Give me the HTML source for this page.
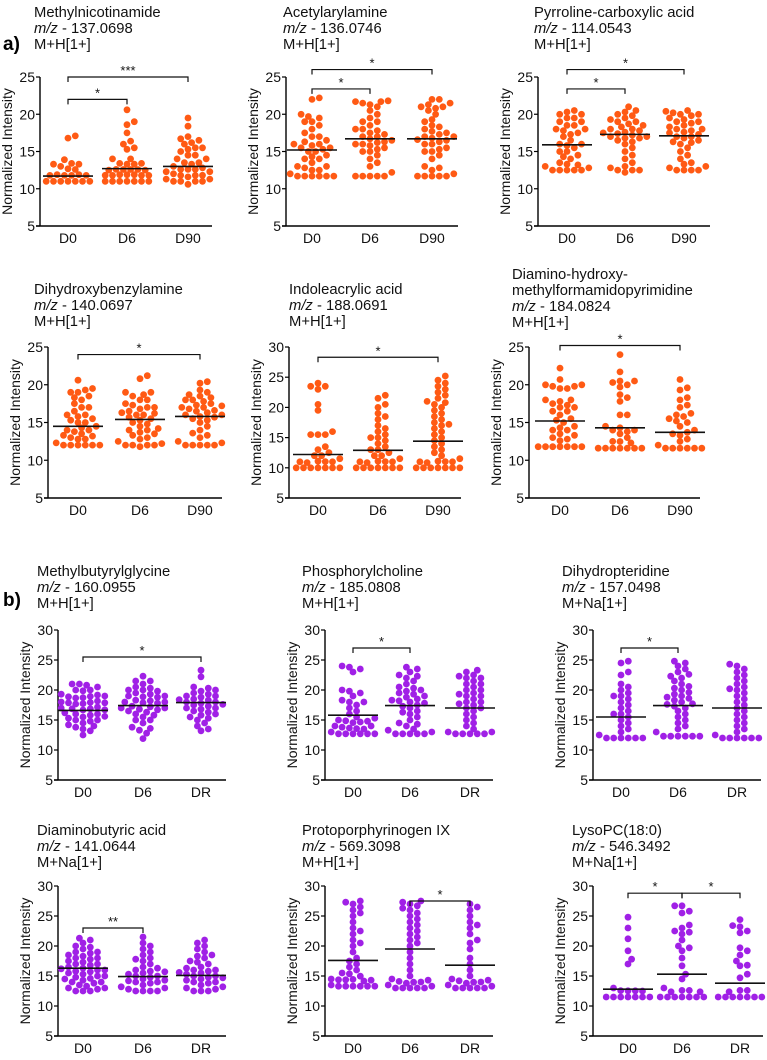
<!DOCTYPE html>
<html><head><meta charset="utf-8"><style>
body{margin:0;background:#fff;}
svg{display:block;font-family:"Liberation Sans",Arial,sans-serif;}
</style></head><body>
<svg id="fig" width="767" height="1060" viewBox="0 0 767 1060" xmlns="http://www.w3.org/2000/svg">
<text x="3" y="50" font-size="19" font-weight="bold">a)</text>
<text x="3" y="606" font-size="19" font-weight="bold">b)</text>
</svg>
<script>
// ---------- data ----------
const catsA = ["D0","D6","D90"];
const catsB = ["D0","D6","DR"];
const ticks25 = [5,10,15,20,25];
const ticks30 = [5,10,15,20,25,30];

const p1D0=[11,11,11,11,11,11,11,11.2,11.2,11.3,11.3,11.5,11.5,11.5,12.0,13.3,13.3,13.4,13.9,16.8,17.1,13.0];
const p1D6=[11,11,11,11,11,11,11,11,11.3,11.3,11.5,11.5,11.5,12,12,12,12.5,12.5,13,13,13.4,13.4,14,14,15.3,15.5,16,16.4,17.5,18.6,19,20.6,11.8,12.3];
const p1D90=[10.6,11,11,11,11,11.3,11.3,11.3,11.5,11.5,12,12,12,12.3,12.3,12.6,13,13,13.5,13.5,14,14,14.5,14.5,15,15.3,15.5,15.5,16,16.2,16.5,16.7,17,18.4,19.5,11.8,12.8];
const p1Means=[11.7,12.7,13.0];

const p2D0=[11.7,11.7,11.7,11.7,11.7,11.7,12,12.2,12.5,13,13,13.5,14,14,14.3,14.5,15,15,15.3,15.5,15.5,16,16,16.3,16.5,17,17,17.5,18,18.5,19,19,19.5,19.7,20,22,22.2,12.8,15.8];
const p2D6=[11.7,11.7,11.7,11.7,11.7,12.2,13,13.5,14,14.5,15,15,15.3,15.5,15.8,16,16,16.3,16.5,16.7,17,17,17.3,17.5,18,18,18.5,19,19,19.5,20,20.5,21,21.3,21.5,21.7,21.7,21.8,16.2,17.8];
const p2D90=[11.7,11.7,11.7,11.7,11.7,12,12.5,12.8,13,14,14.5,15,15,15.3,15.5,16,16,16.3,16.5,16.8,17,17,17.3,17.5,18,18.3,18.5,19,19.3,20,20.5,20.8,21,21,21.3,21.5,22,22,16.6,17.7];
const p2Means=[15.2,16.7,16.7];

const p3D0=[12.5,12.5,12.5,12.5,12.5,12.8,13,13,13.5,14,14.5,15,15,15.5,15.8,16,16,16.5,17,17.3,17.5,18,18,18.5,18.5,19,19,19.5,19.5,20,20,20.3,20.5,13.2,14.3,17.8];
const p3D6=[12.2,12.5,12.5,12.5,12.8,13,13.5,14,14.5,15,15.5,16,16.3,16.5,16.8,17,17,17.2,17.4,17.6,17.8,18,18,18.3,18.5,18.7,19,19,19.3,19.5,19.8,20,20.3,20.5,21,17.5,16.8];
const p3D90=[12.5,12.5,12.5,12.5,12.8,13,13.3,13.5,14,14.5,15,15.5,16,16.3,16.5,16.8,17,17,17.3,17.5,17.8,18,18,18.3,18.5,18.8,19,19,19.3,19.5,19.8,20,20,20.2,20.4,20.5,16.2,17.6];
const p3Means=[15.9,17.3,17.1];

const p4D0=[12,12,12,12,12,12,12.3,12.5,12.8,13,13.3,13.5,13.8,14,14,14.3,14.5,15,15,15.3,15.5,16,16,16.5,17,17,17.5,18,18.3,18.5,19,19,19.3,19.5,20.6,13.2,15.8];
const p4D6=[11.8,12,12,12,12,12.2,12.5,12.8,13,13.3,13.5,14,14,14.5,14.8,15,15.3,15.5,16,16,16.3,16.5,16.8,17,17,17.3,17.5,18,18,18.5,18.7,19,19,20.8,21.2,15.7,16.2,14.2,13.7];
const p4D90=[12,12,12,12,12,12.3,12.5,13,13.3,13.6,14,14.5,15,15.3,15.5,15.8,16,16,16.3,16.5,16.8,17,17,17.3,17.5,17.8,18,18,18.3,18.5,18.7,19,19.3,20.2,20.4,16.6,17.2,15.7];
const p4Means=[14.5,15.4,15.8];

const p5D0=[10,10,10,10,10,10,10,10,10.3,10.5,11,11,11.5,12,12,12.5,13,13.5,15.5,15.5,15.5,16,19.5,20.5,23,23.5,23.5,24];
const p5D6=[10,10,10,10,10,10,10,10,10.3,10.5,11,11,11.5,12,12,12.5,13,13,13.5,14,14.5,15,15,15.5,16,16.5,17,18,18.5,19,20,20.5,21.5,22];
const p5D90=[10,10,10,10,10,10,10,10,10.3,10.5,11,11,11.5,12,12.5,13,13.5,14,14.5,15,15.5,16,16.5,17,17.5,18,18.5,19,19.5,20,20.5,21,21.5,22,22.5,23,23.5,24,24.5,25.2,20.8,17.2];
const p5Means=[12.2,12.9,14.4];

const p6D0=[11.8,11.8,11.8,11.8,11.8,11.8,11.8,12.3,12.8,13.3,13.5,14,14,14.3,14.5,15,15.3,15.5,16,16.5,17,17.3,17.5,17.8,18,18,19.5,19.5,19.8,19.8,20,20,20.7,22.2,17,16.5,13];
const p6D6=[11.6,11.6,11.6,11.6,11.6,11.6,11.6,12.3,12.5,13,13.5,13.8,14,14,14.3,14.5,16,16,17.8,18.3,18.7,19.7,20,20.3,20.5,20.5,21.7,24,11.9];
const p6D90=[11.6,11.6,11.6,11.6,11.6,11.6,12,12.5,12.8,13.3,13.5,13.7,14.5,15,15.2,15.5,15.8,16,16.2,17,17.3,18,18.3,19.3,19.6,20.7,14];
const p6Means=[15.2,14.3,13.7];

const p7D0=[12.5,13.2,13.5,13.8,14,14.2,14.5,14.8,15,15,15.3,15.5,15.8,16,16,16.2,16.5,16.5,16.8,17,17,17.2,17.5,17.5,17.8,18,18,18.3,18.5,18.8,19,19.3,19.5,20,20,20.5,20.8,21,21,16.3,16.7,17.3,15.6,18.2];
const p7D6=[11.9,12.8,13.3,13.6,13.8,14.5,15,15,15.5,15.8,16,16.3,16.5,16.8,17,17,17.3,17.5,17.8,18,18,18.3,18.5,18.8,19,19,19.3,19.5,19.8,20,20,20.3,20.5,21,21.5,21.5,22.3,17.2,18.2,16.7];
const p7DR=[13.2,13.5,14,14.5,15,15.3,15.5,15.8,16,16.3,16.5,16.8,17,17,17.3,17.5,17.8,18,18,18.3,18.5,18.8,19,19,19.3,19.5,19.8,20,20.3,20.5,22.2,23.3,17.6,18.4];
const p7Means=[16.6,17.4,17.9];

const p8D0=[12.7,12.7,12.7,12.7,12.7,12.7,13,13.3,13.5,13.8,14,14,14.3,14.5,14.8,15,15.3,15.5,16,16.5,17,17.5,18,18,18.3,19,19.5,19.8,20,23,23.5,23.8,24,13.2,14.2];
const p8D6=[12.7,12.7,12.7,12.7,12.7,13,13.3,13.5,14,14.3,14.5,15,15.5,16,16.3,16.5,17,17.3,17.5,18,18.3,18.5,18.8,19,19.3,19.5,19.8,20,20.3,20.5,21,21.5,22,22.3,22.5,23,23.5,23.8,18.2,17.8];
const p8DR=[12.7,12.7,12.7,12.7,12.7,13,13,13.5,14,14.5,15,15.5,16,16.5,17,17,17.5,18,18,18.5,19,19,19.5,20,20,20.5,21,21,21.5,22,22,22.3,22.5,23,23.3,17.7,19.3];
const p8Means=[15.8,17.4,17.0];

const p9D0=[12,12,12,12,12,12,12.5,13,13.5,14,14.5,15,15.5,16,16,16.5,17,17.5,18,18.5,19,19,19.5,20,20.5,21,24.5,24.8,22.5,23];
const p9D6=[12.3,12.3,12.3,12.3,12.3,12.3,13,13.5,14,14.5,15,15.5,16,16.5,17,17.3,17.6,18,18.3,18.6,19,19.3,19.6,20,20.3,20.6,21,21.5,22,22.3,22.6,23,23.5,24,24.5,24.8,17.7,18.8];
const p9DR=[12,12,12,12,12,12,12.5,13,13.5,14,14.5,15,15.5,16,16.5,17,17.5,18,18.5,19,19.5,20,20.5,21,21.5,22,22.5,23,23.5,24,24.3,20.2];
const p9Means=[15.5,17.4,17.0];

const p10D0=[12.5,12.5,12.5,12.8,13,13,13.3,13.5,13.8,14,14,14.3,14.5,14.8,15,15,15.3,15.5,15.8,16,16,16.3,16.5,16.8,17,17,17.3,17.5,17.8,18,18,18.3,18.5,18.8,19,19,19.5,19.8,20,20.5,21,21.3,16.2,15.7,14.6];
const p10D6=[12.5,12.5,12.5,12.5,12.8,13,13.2,13.5,13.8,14,14,14.3,14.5,14.8,15,15,15.3,15.5,15.8,16,16.3,16.5,17,17.5,17.8,18,18.5,19,19.5,20,20.5,21.5,14.2,15.7];
const p10DR=[12.5,12.5,12.5,12.8,13,13.2,13.5,13.8,14,14,14.3,14.5,14.8,15,15,15.3,15.5,15.8,16,16,16.3,16.5,17,17.3,17.5,18,18.3,18.5,19,19.5,20,20.5,21,14.7,15.6];
const p10Means=[16.3,14.9,15.1];

const p11D0=[13.3,13.3,13.3,13.3,13.3,13.3,13.5,13.8,14,14,14.3,14.5,15,15.5,16,16.5,17,17.5,18,19,20,20.5,21,22,22.5,23,24,25,25.5,26,26.5,27,27.3,27.5,13.7,14.6];
const p11D6=[13,13,13,13,13,13.3,13.5,13.8,14,14.3,14.5,15,16,17,18,19,20,20.5,21,21.5,22,22.5,23,23.5,24,24.5,25,25.5,26,26.3,26.7,27,27.3,27.5,13.6,14.1];
const p11DR=[13,13,13,13,13,13.3,13.5,13.8,14,14.3,14.5,15,16,17,18,19.5,20.5,21,22,23,23.5,24,25,26,26.5,27,13.6,14.2];
const p11Means=[17.6,19.5,16.8];

const p12D0=[11.5,11.5,11.5,11.5,11.5,11.5,11.5,11.8,11.8,12.2,12.5,13,17,17.8,19.2,21.2,23,24.8];
const p12D6=[11.5,11.5,11.5,11.5,11.5,11.5,11.5,11.5,11.5,12,12,13,14.5,15.3,16.7,18,19.2,19.7,20,21,22,22.3,22.5,23,23.5,25.5,25.8,26.7,26.7];
const p12DR=[11.5,11.5,11.5,11.5,11.5,11.5,11.5,11.5,11.5,12,14.7,15.3,16.7,16.8,17.5,18.5,19.2,19.7,22.2,22.5,23.2,23.4,24.4];
const p12Means=[12.8,15.3,13.8];

// brackets: [fromGroup, toGroup, value, label]
const p1Br=[[0,1,22,"*"],[0,2,25,"***"]];
const p2Br=[[0,1,23.4,"*"],[0,2,26,"*"]];
const p3Br=[[0,1,23.4,"*"],[0,2,26,"*"]];
const p4Br=[[0,2,24,"*"]];
const p5Br=[[0,2,28.3,"*"]];
const p6Br=[[0,2,25.2,"*"]];
const p7Br=[[0,2,25.5,"*"]];
const p8Br=[[0,1,27,"*"]];
const p9Br=[[0,1,27,"*"]];
const p10Br=[[0,1,23,"**"]];
const p11Br=[[1,2,27.5,"*"]];
const p12Br=[[0,1,28.8,"*"],[1,2,28.8,"*"]];

const ORANGE="#ff5a14", PURPLE="#a020e6";
const NS="http://www.w3.org/2000/svg";
const svg=document.getElementById('fig');

function mk(tag,attrs,parent){const e=document.createElementNS(NS,tag);for(const k in attrs)e.setAttribute(k,attrs[k]);(parent||svg).appendChild(e);return e;}

const panels=[
 {id:"methylnicotinamide",t:["Methylnicotinamide","137.0698","M+H[1+]"],tx:34,ty:[12,28,44],x0:40,yT:77,yB:226,off:[28,87,148],len:172,ticks:ticks25,cats:catsA,g:[p1D0,p1D6,p1D90],m:p1Means,br:p1Br,c:ORANGE},
 {id:"acetylarylamine",t:["Acetylarylamine","136.0746","M+H[1+]"],tx:283,ty:[12,28,44],x0:286,yT:77,yB:226,off:[26,84,146],len:172,ticks:ticks25,cats:catsA,g:[p2D0,p2D6,p2D90],m:p2Means,br:p2Br,c:ORANGE},
 {id:"pyrroline",t:["Pyrroline-carboxylic acid","114.0543","M+H[1+]"],tx:534,ty:[12,28,44],x0:538,yT:77,yB:226,off:[29,87,146],len:172,ticks:ticks25,cats:catsA,g:[p3D0,p3D6,p3D90],m:p3Means,br:p3Br,c:ORANGE},
 {id:"dihydroxybenzylamine",t:["Dihydroxybenzylamine","140.0697","M+H[1+]"],tx:34,ty:[289,305,321],x0:48,yT:347,yB:498,off:[30,92,152],len:174,ticks:ticks25,cats:catsA,g:[p4D0,p4D6,p4D90],m:p4Means,br:p4Br,c:ORANGE},
 {id:"indoleacrylic",t:["Indoleacrylic acid","188.0691","M+H[1+]"],tx:289,ty:[289,305,321],x0:289,yT:347,yB:498,off:[29,89,149],len:172,ticks:ticks30,cats:catsA,g:[p5D0,p5D6,p5D90],m:p5Means,br:p5Br,c:ORANGE},
 {id:"diamino",t:["Diamino-hydroxy-","methylformamidopyrimidine","184.0824","M+H[1+]"],tx:512,ty:[274,290,306,322],x0:529,yT:347,yB:498,off:[31,91,151],len:171,ticks:ticks25,cats:catsA,g:[p6D0,p6D6,p6D90],m:p6Means,br:p6Br,c:ORANGE},
 {id:"methylbutyrylglycine",t:["Methylbutyrylglycine","160.0955","M+H[1+]"],tx:37,ty:[571,587,603],x0:58,yT:630,yB:780,off:[25,85,143],len:168,ticks:ticks30,cats:catsB,g:[p7D0,p7D6,p7DR],m:p7Means,br:p7Br,c:PURPLE},
 {id:"phosphorylcholine",t:["Phosphorylcholine","185.0808","M+H[1+]"],tx:302,ty:[571,587,603],x0:325,yT:630,yB:780,off:[28,85,145],len:168,ticks:ticks30,cats:catsB,g:[p8D0,p8D6,p8DR],m:p8Means,br:p8Br,c:PURPLE},
 {id:"dihydropteridine",t:["Dihydropteridine","157.0498","M+Na[1+]"],tx:562,ty:[571,587,603],x0:593,yT:630,yB:780,off:[28,85,144],len:168,ticks:ticks30,cats:catsB,g:[p9D0,p9D6,p9DR],m:p9Means,br:p9Br,c:PURPLE},
 {id:"diaminobutyric",t:["Diaminobutyric acid","141.0644","M+Na[1+]"],tx:37,ty:[830,846,862],x0:58,yT:886,yB:1036,off:[25,85,143],len:168,ticks:ticks30,cats:catsB,g:[p10D0,p10D6,p10DR],m:p10Means,br:p10Br,c:PURPLE},
 {id:"protoporphyrinogen",t:["Protoporphyrinogen IX","569.3098","M+H[1+]"],tx:302,ty:[830,846,862],x0:325,yT:886,yB:1036,off:[28,85,145],len:168,ticks:ticks30,cats:catsB,g:[p11D0,p11D6,p11DR],m:p11Means,br:p11Br,c:PURPLE},
 {id:"lysopc",t:["LysoPC(18:0)","546.3492","M+Na[1+]"],tx:572,ty:[830,846,862],x0:593,yT:886,yB:1036,off:[35,89,147],len:170,ticks:ticks30,cats:catsB,g:[p12D0,p12D6,p12DR],m:p12Means,br:p12Br,c:PURPLE}
];

function swarm(vals,cx,yS,d,W){
  const pts=[];const sorted=vals.slice().sort((a,b)=>a-b);
  const step=d*0.55;
  for(const v of sorted){
    let y=yS(v);let best=null;
    for(let tries=0;tries<30&&best===null;tries++){
      for(let k=0;k*step<=W&&best===null;k++){
        const cands=k===0?[0]:[k*step,-k*step];
        for(const dx of cands){
          let ok=true;
          for(const p of pts){const ddx=p.x-(cx+dx),ddy=p.y-y;if(ddx*ddx+ddy*ddy<d*d*0.8){ok=false;break;}}
          if(ok){best=dx;break;}
        }
      }
      if(best===null) y-=2.2;
    }
    if(best===null)best=0;
    pts.push({x:cx+best,y:y,v:v});
  }
  return pts;
}

panels.forEach(P=>{
  const g=mk('g',{});
  
  
  const ymax=P.ticks[P.ticks.length-1], ymin=P.ticks[0];
  const yS=v=>P.yB-(v-ymin)/(ymax-ymin)*(P.yB-P.yT);
  const xS=i=>P.x0+P.off[i];
  const n=P.t.length;
  P.t.forEach((line,i)=>{
    const t=mk('text',{x:P.tx,y:P.ty[i]+5,'font-size':14.8,fill:'#111'},g);
    if(i===n-2){
      
      const s=mk('tspan',{'font-style':'italic'},t);s.textContent='m/z';
      const s2=mk('tspan',{},t);s2.textContent=' - '+line;
    } else {
      
      t.textContent=line;
    }
    
  });
  const ya=mk('line',{x1:P.x0,y1:P.yT,x2:P.x0,y2:P.yB,stroke:'#000','stroke-width':1.4},g);
  
  
  const xa=mk('line',{x1:P.x0-4,y1:P.yB,x2:P.x0+P.len,y2:P.yB,stroke:'#000','stroke-width':1.4},g);
  
  
  P.ticks.forEach(tv=>{
    const y=yS(tv);
    mk('line',{x1:P.x0-4,y1:y,x2:P.x0,y2:y,stroke:'#000','stroke-width':1.2},g);
    const tl=mk('text',{x:P.x0-5,y:y+5,'font-size':14,'text-anchor':'end',fill:'#111'},g);
    tl.textContent=tv;
    
    
  });
  const yl=mk('text',{x:0,y:0,'font-size':14,'text-anchor':'middle',fill:'#111',transform:`translate(${P.x0-28},${(P.yT+P.yB)/2}) rotate(-90)`},g);
  yl.textContent='Normalized Intensity';
  
  
  P.cats.forEach((c,i)=>{
    const cl=mk('text',{x:xS(i),y:P.yB+17,'font-size':14,'text-anchor':'middle',fill:'#111'},g);
    cl.textContent=c;
    
    
  });
  P.g.forEach((vals,i)=>{
    swarm(vals,xS(i),yS,6.6,22).forEach(p=>{
      const c=mk('circle',{cx:p.x.toFixed(1),cy:p.y.toFixed(1),r:3.4,fill:P.c},g);
      
      
    });
  });
  P.m.forEach((mv,i)=>{
    const l=mk('line',{x1:xS(i)-25,x2:xS(i)+25,y1:yS(mv),y2:yS(mv),stroke:'#111','stroke-width':1.6},g);
    
    
  });
  P.br.forEach(b=>{
    const y=yS(b[2]),xa1=xS(b[0]),xb=xS(b[1]);
    const pl=mk('polyline',{points:`${xa1},${y+5} ${xa1},${y} ${xb},${y} ${xb},${y+5}`,fill:'none',stroke:'#111','stroke-width':1.2},g);
    
    
    const st=mk('text',{x:(xa1+xb)/2,y:y-2,'font-size':13,'text-anchor':'middle',fill:'#111'},g);
    st.textContent=b[3];
    
    
  });
});
</script>
</body></html>
